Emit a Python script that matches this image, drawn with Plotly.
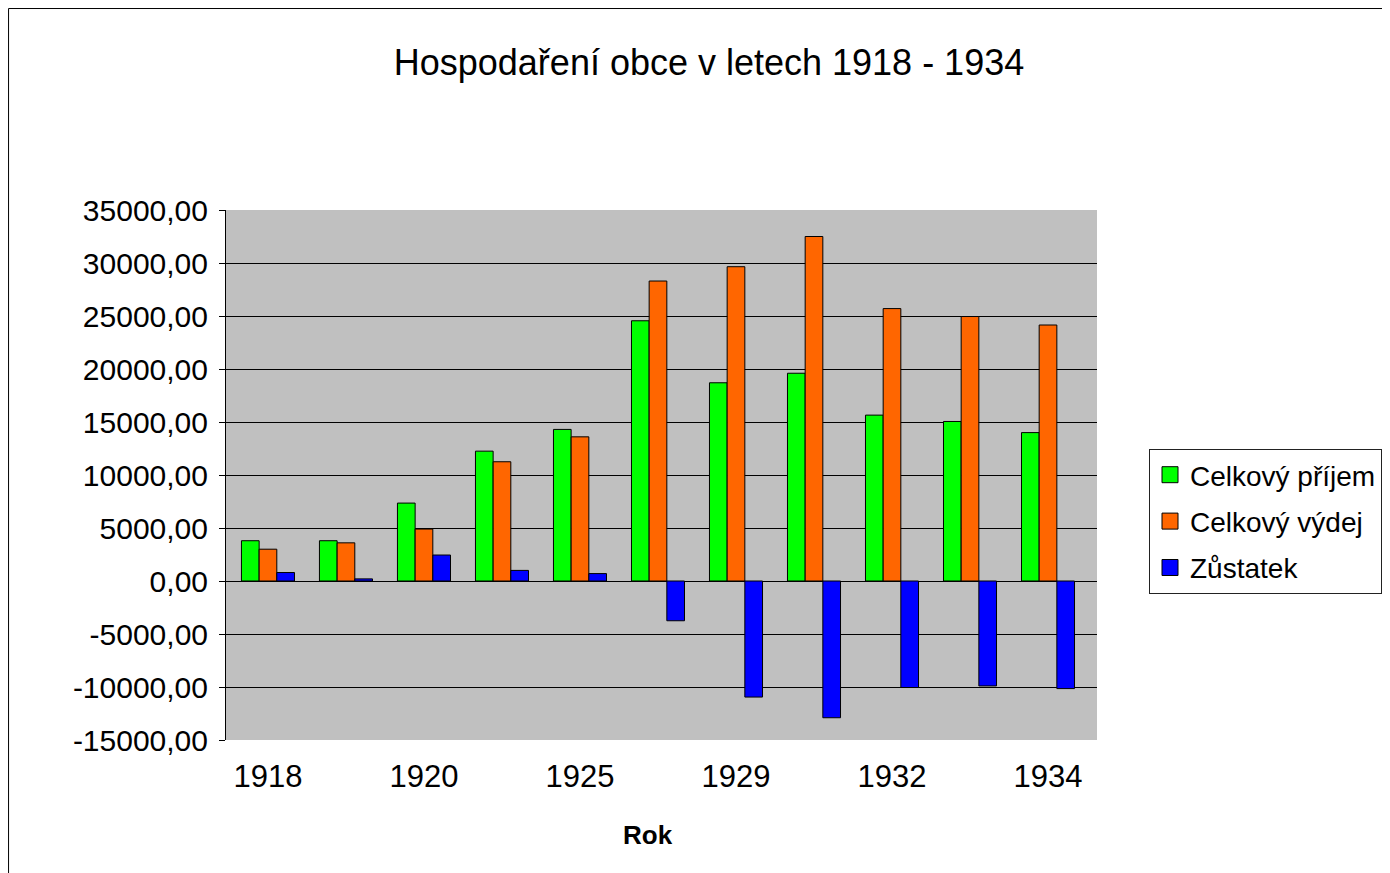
import plotly.graph_objects as go

# ---- data ----
categories = ["1918", "1919", "1920", "1921", "1925", "1927",
              "1929", "1930", "1932", "1933", "1934"]
shown_labels = ["1918", "1920", "1925", "1929", "1932", "1934"]
prijem = [3800, 3800, 7350, 12250, 14300, 24550, 18700, 19600, 15650, 15050, 14000]
vydej = [3000, 3600, 4900, 11250, 13600, 28300, 29650, 32500, 25700, 24950, 24150]
zustatek = [800, 200, 2450, 1000, 700, -3750, -10950, -12900, -10050, -9900, -10150]
series_names = ["Celkový příjem", "Celkový výdej", "Zůstatek"]
series_colors = ["#00FF00", "#FF6600", "#0000FF"]
y_ticks = [-15000, -10000, -5000, 0, 5000, 10000, 15000, 20000, 25000, 30000, 35000]
y_ticktext = [f"{v:.2f}".replace(".", ",") for v in y_ticks]

W, H = 1390, 873
OFF = 8  # page body margin in the browser
FONT = "Liberation Sans, Arial, sans-serif"


def px(x):
    return (x - OFF) / W


def py(y):
    return 1 - (y - OFF) / H


fig = go.Figure()
for name, vals, col in zip(series_names, [prijem, vydej, zustatek], series_colors):
    fig.add_trace(go.Bar(
        x=categories, y=vals, name=name, showlegend=False,
        marker=dict(color=col, line=dict(color="black", width=1)),
    ))
# legend-only entries (larger square symbols)
for i, (name, col) in enumerate(zip(series_names, series_colors)):
    fig.add_trace(go.Scatter(
        x=[None], y=[None], mode="markers", name=name, legendgroup=f"g{i}",
        marker=dict(symbol="square", size=16, color=col, line=dict(color="black", width=1)),
    ))

xrange = [-0.538, 10.628]
xdom = [px(226), px(1097)]
fig.update_layout(
    width=W, height=H,
    margin=dict(l=0, r=0, t=0, b=0, autoexpand=False),
    paper_bgcolor="white",
    plot_bgcolor="#C0C0C0",
    barmode="group", bargap=0.32, bargroupgap=0,
    font=dict(family=FONT, color="black"),
    title=dict(text="Hospodaření obce v letech 1918 - 1934",
               x=px(709), y=py(62), xref="container", yref="container",
               xanchor="center", yanchor="middle",
               font=dict(family=FONT, size=36, color="black")),
    xaxis=dict(type="category", categoryorder="array", categoryarray=categories,
               range=xrange, domain=xdom, tickmode="array", tickvals=shown_labels,
               ticks="", showgrid=False, showline=False, zeroline=False,
               tickfont=dict(size=31), ticklabelstandoff=15),
    xaxis2=dict(overlaying="x", anchor="y", side="bottom", type="linear",
                range=xrange, tickmode="array",
                tickvals=[i - 0.5 for i in range(len(categories) + 1)],
                ticks="outside", ticklen=9, tickcolor="black",
                showticklabels=False, showgrid=False, zeroline=False,
                showline=True, linecolor="black", linewidth=1),
    yaxis=dict(range=[-15000, 35000], domain=[py(740), py(210)],
               tickmode="array", tickvals=y_ticks, ticktext=y_ticktext,
               ticks="outside", ticklen=6, tickcolor="black",
               showline=True, linecolor="black", linewidth=1,
               showgrid=True, gridcolor="black", gridwidth=1, zeroline=False,
               tickfont=dict(size=30), ticklabelstandoff=5),
    legend=dict(x=px(1149), y=py(449), xanchor="left", yanchor="top",
                bgcolor="white", bordercolor="#222222", borderwidth=1,
                font=dict(family=FONT, size=28, color="black"),
                traceorder="grouped", tracegroupgap=7),
    annotations=[dict(text="<b>Rok</b>", x=px(648), y=py(835),
                      xref="paper", yref="paper", showarrow=False,
                      xanchor="center", yanchor="middle",
                      font=dict(family=FONT, size=26, color="black"))],
    shapes=[dict(type="rect", xref="paper", yref="paper",
                 x0=px(8) + 0.0004, x1=1.05, y0=-0.05, y1=py(8) - 0.0006,
                 line=dict(color="black", width=1), layer="below")],
)

fig.write_html("out.html")
